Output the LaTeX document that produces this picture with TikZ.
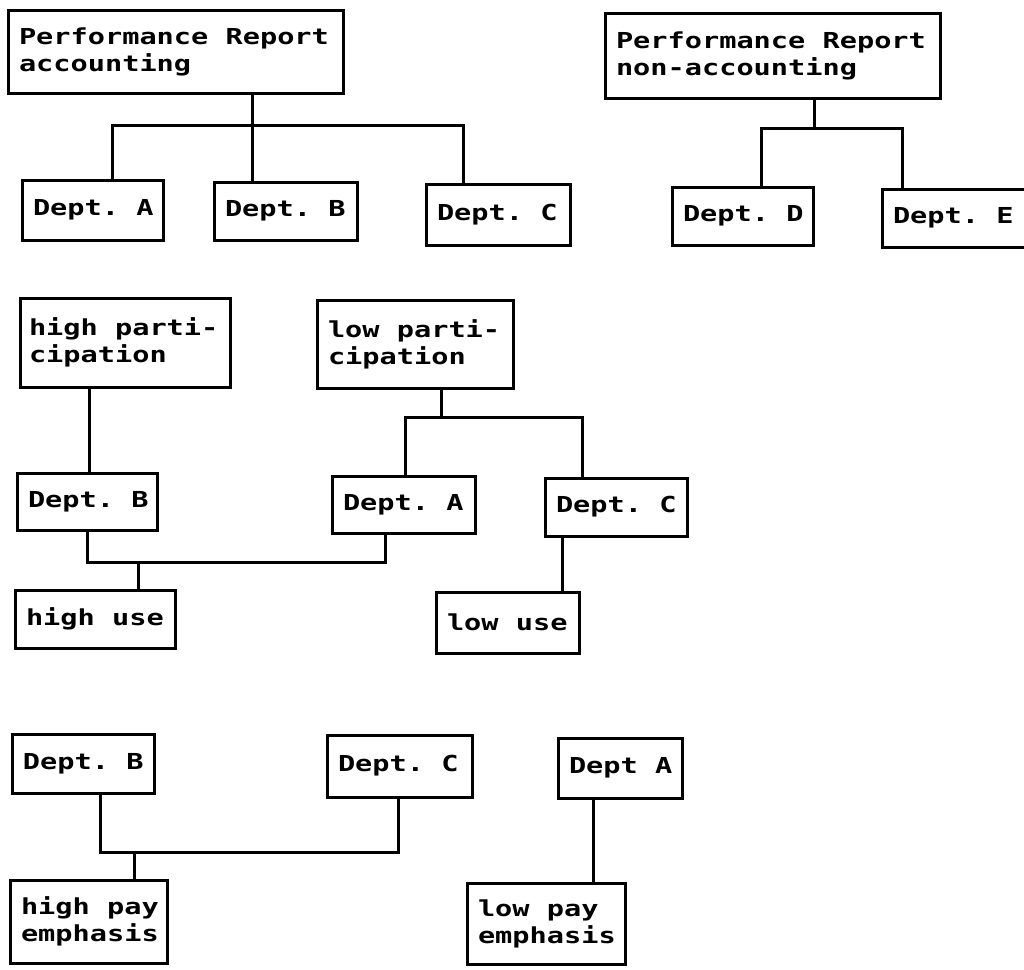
\documentclass[tikz,border=0pt]{standalone}
\usepackage{fontspec}
\newfontfamily\dotfont[FakeStretch=1.3]{DejaVu Sans Mono}
\newcommand{\repfont}{\dotfont\bfseries\fontsize{11pt}{13.5pt}\selectfont}
% monospaced look: a blank as wide as a letter
\newcommand{\wgap}{\kern8.61pt\relax}
\usetikzlibrary{calc,positioning}

\tikzset{
  box/.style={draw,line width=1.5pt,outer sep=0pt,inner xsep=5.5pt,inner ysep=0pt,
    anchor=north west,align=left,font=\repfont},
  link/.style={line width=1.5pt,line join=miter}
}

\begin{document}
\begin{tikzpicture}[x=0.5pt,y=-0.5pt]
\clip (0,0) rectangle (1024,970);

% performance reports
\node[box,text width=156.5pt,minimum height=41.5pt] (repacc) at (8,10) {Performance\wgap Report\\accounting};
\node[box,text width=156.5pt,minimum height=42.5pt] (repnon) at (605,13) {Performance\wgap Report\\non-accounting};
\node[box,text width=59.5pt,minimum height=30pt] (topA) at (22,180) {Dept.\wgap A};
\node[box,text width=60.5pt,minimum height=29pt] (topB) at (214,182) {Dept.\wgap B};
\node[box,text width=61pt,minimum height=30.5pt] (topC) at (426,184) {Dept.\wgap C};
\node[box,text width=59.5pt,minimum height=29pt] (topD) at (672,187) {Dept.\wgap D};
\node[box,text width=68pt,minimum height=29pt] (topE) at (882,189) {Dept.\wgap E};

\coordinate (jacc) at (252,125);
\coordinate (jaccA) at (112,125);
\coordinate (jaccC) at (463,125);
\draw[link] (repacc.south -| jacc) -- (jacc |- topB.north);
\draw[link] (jaccA |- topA.north) -- (jaccA) -- (jaccC) -- (jaccC |- topC.north);

\coordinate (jnon) at (814,128);
\coordinate (jnonD) at (761,128);
\coordinate (jnonE) at (902,128);
\draw[link] (repnon.south -| jnon) -- (jnon);
\draw[link] (jnonD |- topD.north) -- (jnonD) -- (jnonE) -- (jnonE |- topE.north);

% participation and use
\node[box,inner xsep=4.5pt,text width=96pt,minimum height=44.5pt] (hipart) at (20,298) {\mbox{high\wgap parti-}\\cipation};
\node[box,text width=87pt,minimum height=44pt] (lopart) at (317,300) {\mbox{low\wgap parti-}\\cipation};
\node[box,text width=59pt,minimum height=28.5pt] (midB) at (17,473) {Dept.\wgap B};
\node[box,text width=60.5pt,minimum height=28.5pt] (midA) at (332,476) {Dept.\wgap A};
\node[box,text width=60pt,minimum height=29pt] (midC) at (545,478) {Dept.\wgap C};
\node[box,text width=69pt,minimum height=29pt] (hiuse) at (15,590) {high\wgap use};
\node[box,text width=60.5pt,minimum height=30.5pt] (louse) at (436,592) {low\wgap use};

\coordinate (jhip) at (89,0);
\draw[link] (hipart.south -| jhip) -- (midB.north -| jhip);

\coordinate (jlop) at (441,417);
\coordinate (jlopA) at (405,417);
\coordinate (jlopC) at (582,417);
\draw[link] (lopart.south -| jlop) -- (jlop);
\draw[link] (jlopA |- midA.north) -- (jlopA) -- (jlopC) -- (jlopC |- midC.north);

\coordinate (juse) at (138,562);
\coordinate (juseB) at (87,562);
\coordinate (juseA) at (385,562);
\draw[link] (midB.south -| juseB) -- (juseB) -- (juseA) -- (midA.south -| juseA);
\draw[link] (juse) -- (hiuse.north -| juse);

\coordinate (jlou) at (562,0);
\draw[link] (midC.south -| jlou) -- (louse.north -| jlou);

% pay emphasis
\node[box,text width=60pt,minimum height=29.5pt] (botB) at (12,734) {Dept.\wgap B};
\node[box,text width=61.5pt,minimum height=31pt] (botC) at (327,735) {Dept.\wgap C};
\node[box,text width=51pt,minimum height=30pt] (botA) at (558,738) {Dept\wgap A};
\node[box,text width=67.5pt,minimum height=41.5pt] (hipay) at (10,880) {high\wgap pay\\emphasis};
\node[box,text width=68pt,minimum height=40.5pt] (lopay) at (467,883) {low\wgap pay\\emphasis};

\coordinate (jpay) at (134,852);
\coordinate (jpayB) at (100,852);
\coordinate (jpayC) at (398,852);
\draw[link] (botB.south -| jpayB) -- (jpayB) -- (jpayC) -- (botC.south -| jpayC);
\draw[link] (jpay) -- (hipay.north -| jpay);

\coordinate (jlpay) at (593,0);
\draw[link] (botA.south -| jlpay) -- (lopay.north -| jlpay);
\end{tikzpicture}
\end{document}
